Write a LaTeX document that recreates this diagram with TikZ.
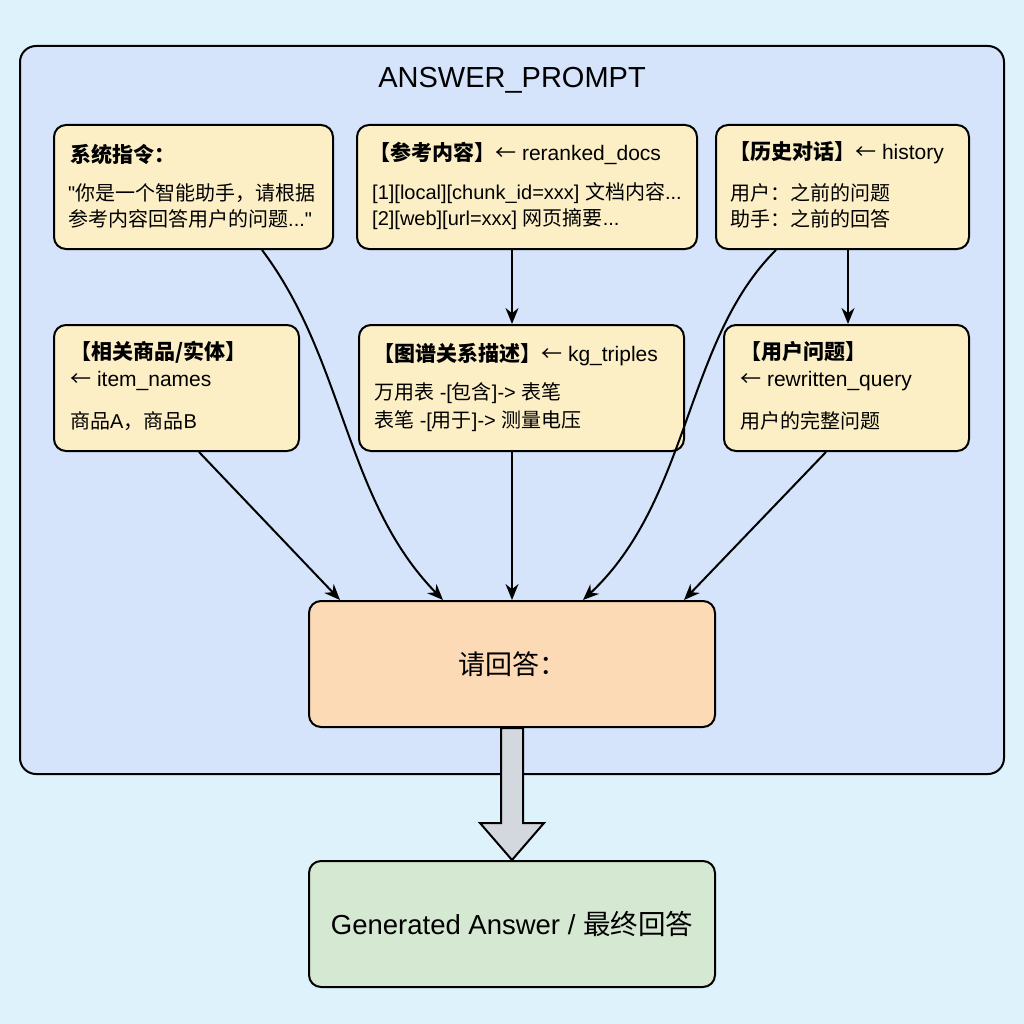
\documentclass[tikz,border=0pt]{standalone}
\usepackage{fontspec}
\setmainfont{Liberation Sans}[Ligatures=TeXOff]
\newfontfamily\cjk{Noto Sans CJK SC}
\usetikzlibrary{arrows.meta,calc}
\newcommand{\zh}[1]{{\cjk #1}}
\newcommand{\larr}{{\cjk ←}}
\definecolor{bgcol}{HTML}{DDF2FA}
\definecolor{contcol}{HTML}{D5E4FB}
\definecolor{yellowbox}{HTML}{FCEFC6}
\definecolor{orangebox}{HTML}{FDDAB6}
\definecolor{greenbox}{HTML}{D5E8D2}
\definecolor{arrowgray}{HTML}{D3D8DE}
\begin{document}
\begin{tikzpicture}[x=1pt,y=-1pt,
  box/.style={draw=black, line width=2pt, rounded corners=12pt, fill=yellowbox, inner sep=0pt},
  txt/.style={anchor=west, inner sep=0pt, font=\fontsize{20}{24}\selectfont},
  head/.style={anchor=west, inner sep=0pt, font=\fontsize{21}{25}\selectfont},
  arr/.style={-{Stealth[length=16pt,width=13pt]}, line width=2pt}]
\fill[bgcol] (0,0) rectangle (1024,1024);
\useasboundingbox (0,0) rectangle (1024,1024);
% container
\node[draw=black, line width=2pt, rounded corners=16pt, fill=contcol, minimum width=984pt, minimum height=728pt, inner sep=0pt] (prompt) at (512,410) {};
\node[inner sep=0pt, font=\fontsize{29}{33}\selectfont] (title) at (512,80) {ANSWER\_PROMPT};
% boxes
\node[box, minimum width=279pt, minimum height=124pt] (sys) at (193.5,187) {};
\node[box, minimum width=340pt, minimum height=124pt] (ref) at (527,187) {};
\node[box, minimum width=253pt, minimum height=124pt] (hist) at (842.5,187) {};
\node[box, minimum width=245pt, minimum height=126pt] (items) at (176.5,388) {};
\node[box, minimum width=325pt, minimum height=126pt] (kg) at (521.5,388) {};
\node[box, minimum width=245pt, minimum height=126pt] (query) at (846.5,388) {};
\node[box, fill=orangebox, minimum width=406pt, minimum height=126pt, font=\fontsize{27}{32}\selectfont] (answer) at (512,664) {\zh{请回答：}};
\node[box, fill=greenbox, minimum width=406pt, minimum height=126pt, font=\fontsize{27.5}{32}\selectfont] (gen) at (512,924) {Generated Answer / \zh{最终回答}};
% texts
\node[head] (sysh) at (70,155) {\zh{\bfseries 系统指令：}};
\node[txt] (sys1) at (68,193) {"\zh{你是一个智能助手，请根据}};
\node[txt] (sys2) at (68,219) {\zh{参考内容回答用户的问题}..."};
\node[head] (refh) at (369,153) {\zh{\bfseries 【参考内容】}\larr\ reranked\_docs};
\node[txt] (ref1) at (372,193) {[1][local][chunk\_id=xxx] \zh{文档内容}...};
\node[txt] (ref2) at (372,219) {[2][web][url=xxx] \zh{网页摘要}...};
\node[head] (histh) at (729,153) {\zh{\bfseries 【历史对话】}\larr\ history};
\node[txt] (hist1) at (730,193) {\zh{用户：之前的问题}};
\node[txt] (hist2) at (730,219) {\zh{助手：之前的回答}};
\node[head] (itemsh) at (70,352) {\zh{\bfseries 【相关商品/实体】}};
\node[head] (items1) at (70,381) {\larr\ item\_names};
\node[txt] (items2) at (70,421) {\zh{商品}A\zh{，商品}B};
\node[head] (kgh) at (373,355) {\zh{\bfseries 【图谱关系描述】}\larr\ kg\_triples};
\node[txt] (kg1) at (374,393) {\zh{万用表} -[\zh{包含}]-> \zh{表笔}};
\node[txt] (kg2) at (374,421) {\zh{表笔} -[\zh{用于}]-> \zh{测量电压}};
\node[head] (queryh) at (740,352) {\zh{\bfseries 【用户问题】}};
\node[head] (query1) at (740,381) {\larr\ rewritten\_query};
\node[txt] (query2) at (740,421) {\zh{用户的完整问题}};
% connectors
\draw[arr] ([xshift=-15pt]ref.south) -- ([xshift=-9.5pt]kg.north);
\draw[arr] ([xshift=5.5pt]hist.south) -- ([xshift=1.5pt]query.north);
\draw[arr] ([xshift=68.5pt]sys.south) .. controls (345,360) and (345,500) .. ([xshift=-69pt]answer.north);
\draw[arr] ([xshift=-66.5pt]hist.south) .. controls (685,340) and (690,500) .. ([xshift=71pt]answer.north);
\draw[arr] ([xshift=22.5pt]items.south) -- ([xshift=-172pt]answer.north);
\draw[arr] ([xshift=-9.5pt]kg.south) -- (answer.north);
\draw[arr] ([xshift=-20.5pt]query.south) -- ([xshift=172pt]answer.north);
% big arrow
\draw[fill=arrowgray, line width=2pt, line join=miter]
  ($(answer.south)+(-11,0)$) -- ($(answer.south)+(-11,95)$) -- ($(answer.south)+(-32,95)$)
  -- (gen.north) -- ($(answer.south)+(32,95)$) -- ($(answer.south)+(11,95)$) -- ($(answer.south)+(11,0)$) -- cycle;
\end{tikzpicture}
\end{document}
